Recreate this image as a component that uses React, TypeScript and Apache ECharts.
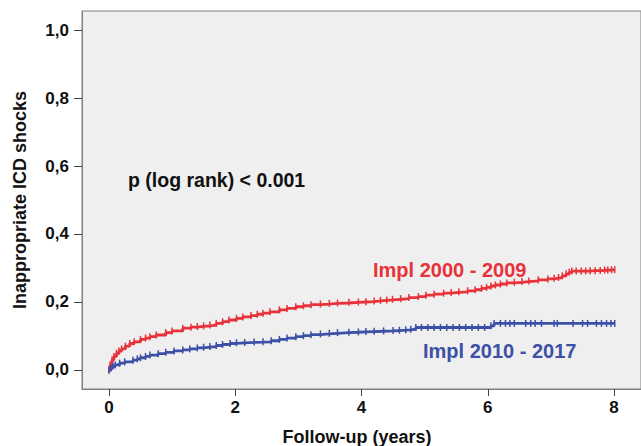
import React, { useEffect, useRef } from "react";
import * as echarts from "echarts";

const yTicks = [0, 0.2, 0.4, 0.6, 0.8, 1.0];
const xTicks = [0, 2, 4, 6, 8];

const redLabel = "Impl 2000 - 2009";
const blueLabel = "Impl 2010 - 2017";

const redData: [number, number][] = [
  [0, 0], [0.02, 0.015], [0.05, 0.03], [0.08, 0.04], [0.12, 0.049], [0.16, 0.056], [0.2, 0.062],
  [0.26, 0.07], [0.33, 0.078], [0.4, 0.083], [0.5, 0.09], [0.58, 0.094], [0.65, 0.098], [0.75, 0.103],
  [0.9, 0.11], [1.0, 0.115], [1.17, 0.123], [1.3, 0.126], [1.4, 0.128], [1.5, 0.13], [1.6, 0.132],
  [1.7, 0.137], [1.8, 0.142], [1.9, 0.147], [2.02, 0.152], [2.12, 0.156], [2.25, 0.16], [2.35, 0.164],
  [2.44, 0.167], [2.55, 0.171], [2.7, 0.177], [2.82, 0.181], [2.96, 0.186], [3.08, 0.189], [3.2, 0.192],
  [3.35, 0.194], [3.49, 0.196], [3.62, 0.197], [3.8, 0.199], [3.95, 0.2], [4.07, 0.201], [4.2, 0.203],
  [4.3, 0.205], [4.4, 0.206], [4.49, 0.208], [4.62, 0.21], [4.75, 0.213], [4.9, 0.216], [5.02, 0.22],
  [5.15, 0.223], [5.3, 0.226], [5.42, 0.228], [5.54, 0.23], [5.68, 0.233], [5.8, 0.236], [5.9, 0.24],
  [5.98, 0.243], [6.05, 0.247], [6.12, 0.25], [6.2, 0.253], [6.3, 0.256], [6.42, 0.258], [6.54, 0.26],
  [6.65, 0.262], [6.8, 0.265], [6.95, 0.268], [7.05, 0.27], [7.12, 0.272], [7.18, 0.277], [7.24, 0.283],
  [7.29, 0.288], [7.33, 0.291], [7.4, 0.291], [7.48, 0.291], [7.55, 0.291], [7.62, 0.292], [7.7, 0.292],
  [7.78, 0.293], [7.85, 0.294], [7.9, 0.294], [7.96, 0.295], [8.01, 0.295],
];

const blueData: [number, number][] = [
  [0, 0], [0.03, 0.006], [0.06, 0.011], [0.1, 0.015], [0.17, 0.02], [0.25, 0.024], [0.38, 0.029],
  [0.45, 0.033], [0.5, 0.036], [0.58, 0.04], [0.65, 0.044], [0.78, 0.048], [0.9, 0.052], [1.03, 0.056],
  [1.17, 0.059], [1.28, 0.062], [1.4, 0.065], [1.5, 0.067], [1.6, 0.069], [1.7, 0.072], [1.8, 0.075],
  [1.92, 0.078], [2.02, 0.08], [2.15, 0.081], [2.3, 0.082], [2.44, 0.083], [2.57, 0.086], [2.7, 0.09],
  [2.82, 0.094], [2.96, 0.098], [3.08, 0.101], [3.2, 0.104], [3.35, 0.106], [3.49, 0.108], [3.62, 0.11],
  [3.8, 0.111], [3.95, 0.112], [4.07, 0.113], [4.2, 0.114], [4.35, 0.115], [4.5, 0.116], [4.6, 0.117],
  [4.7, 0.118], [4.78, 0.12], [4.86, 0.125], [4.95, 0.125], [5.05, 0.125], [5.15, 0.125], [5.25, 0.125],
  [5.35, 0.125], [5.45, 0.125], [5.55, 0.125], [5.65, 0.125], [5.75, 0.125], [5.85, 0.125], [5.95, 0.125],
  [6.05, 0.13], [6.1, 0.137], [6.2, 0.137], [6.28, 0.137], [6.35, 0.137], [6.42, 0.137], [6.6, 0.137],
  [6.68, 0.137], [6.75, 0.137], [6.85, 0.137], [7.05, 0.137], [7.1, 0.137], [7.35, 0.137], [7.5, 0.137],
  [7.58, 0.137], [7.72, 0.137], [7.8, 0.137], [7.88, 0.137], [7.95, 0.137], [8.01, 0.137],
];

const RED = "#e8323a";
const BLUE = "#3c50a6";
const FONT = "'Liberation Sans', Arial, sans-serif";

export default function App() {
  const ref = useRef<HTMLDivElement>(null);
  useEffect(() => {
    if (!ref.current) return;
    const chart = echarts.init(ref.current, null, { renderer: "svg" });
    const series = (name: string, data: [number, number][], color: string) => ({
      name,
      type: "line",
      step: "end",
      data,
      showSymbol: true,
      symbol: "rect",
      symbolSize: [1.5, 7],
      itemStyle: { color },
      lineStyle: { color, width: 2.8 },
      emphasis: { disabled: true },
    });
    chart.setOption({
      animation: false,
      backgroundColor: "#ffffff",
      grid: {
        left: 82,
        top: 11,
        right: -2,
        bottom: 57,
        show: true,
        backgroundColor: "#efefef",
        borderColor: "#808080",
        borderWidth: 1,
      },
      xAxis: {
        type: "value",
        min: -0.426,
        max: 8.426,
        axisLine: { show: true, onZero: false, lineStyle: { color: "#808080", width: 1 } },
        axisTick: { show: true, length: 7, customValues: xTicks, lineStyle: { color: "#404040", width: 1 } },
        axisLabel: {
          customValues: xTicks,
          margin: 10,
          color: "#111",
          fontSize: 17,
          fontWeight: "bold",
          fontFamily: FONT,
          formatter: (v: number) => String(v),
        },
        splitLine: { show: false },
      },
      yAxis: {
        type: "value",
        min: -0.0559,
        max: 1.0559,
        axisLine: { show: true, onZero: false, lineStyle: { color: "#808080", width: 1 } },
        axisTick: { show: true, length: 8, customValues: yTicks, lineStyle: { color: "#404040", width: 1 } },
        axisLabel: {
          customValues: yTicks,
          margin: 13,
          color: "#111",
          fontSize: 17,
          fontWeight: "bold",
          fontFamily: FONT,
          formatter: (v: number) => v.toFixed(1).replace(".", ","),
        },
        splitLine: { show: false },
      },
      series: [series(redLabel, redData, RED), series(blueLabel, blueData, BLUE)],
      graphic: [
        {
          type: "text",
          x: 20,
          y: 200,
          rotation: Math.PI / 2,
          style: {
            text: "Inappropriate ICD shocks",
            font: `bold 18px ${FONT}`,
            fill: "#111",
            align: "center",
            verticalAlign: "middle",
          },
        },
        {
          type: "text",
          x: 357,
          y: 437,
          style: {
            text: "Follow-up (years)",
            font: `bold 18px ${FONT}`,
            fill: "#111",
            align: "center",
            verticalAlign: "middle",
          },
        },
        {
          type: "text",
          x: 128,
          y: 180,
          style: {
            text: "p (log rank) < 0.001",
            font: `bold 19.5px ${FONT}`,
            fill: "#111",
            align: "left",
            verticalAlign: "middle",
          },
        },
        {
          type: "text",
          x: 373,
          y: 270,
          style: {
            text: redLabel,
            font: `bold 20px ${FONT}`,
            fill: RED,
            align: "left",
            verticalAlign: "middle",
          },
        },
        {
          type: "text",
          x: 423,
          y: 351,
          style: {
            text: blueLabel,
            font: `bold 20px ${FONT}`,
            fill: BLUE,
            align: "left",
            verticalAlign: "middle",
          },
        },
      ],
    });
    return () => chart.dispose();
  }, []);
  return (
    <div
      ref={ref}
      style={{ position: "fixed", left: 0, top: 0, width: 641, height: 446, background: "#fff" }}
    />
  );
}
